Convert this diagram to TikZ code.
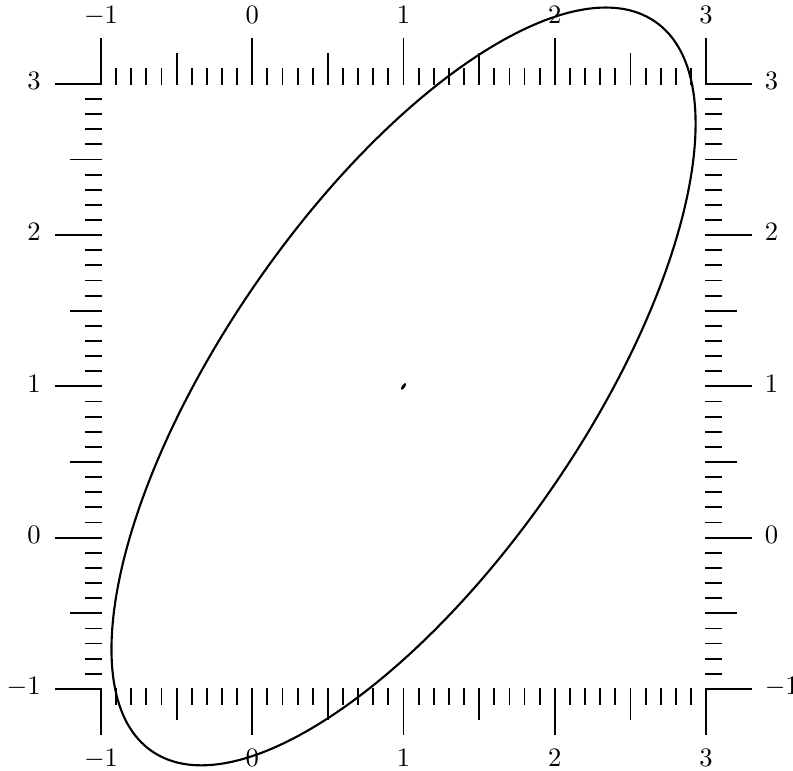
\documentclass[tikz,border=0pt]{standalone}
\begin{document}
\begin{tikzpicture}[x=2cm,y=2cm,
  tick/.style={line width=0.7pt, line cap=rect},
  lbl/.style={inner sep=0pt, font=\normalsize},
  curve/.style={line width=0.8pt}]
\useasboundingbox (-1.668,-1.536) rectangle (3.575,3.555);
% ticks on the four sides, pointing outward
\foreach \k in {0,...,40}{
  \pgfmathsetmacro{\t}{-1+0.1*\k}
  \pgfmathtruncatemacro{\mten}{mod(\k,10)}
  \pgfmathtruncatemacro{\mfive}{mod(\k,5)}
  \pgfmathsetmacro{\L}{ifthenelse(\mten==0,0.3,ifthenelse(\mfive==0,0.2,0.1))}
  \draw[tick] (\t,3) -- ++(0,\L);
  \draw[tick] (\t,-1) -- ++(0,-\L);
  \draw[tick] (-1,\t) -- ++(-\L,0);
  \draw[tick] (3,\t) -- ++(\L,0);
}
% labels
\foreach \v [count=\i] in {-1,0,1,2,3}{
  \node[lbl, anchor=base] (top\i) at (\v,3.397) {$\v$};
  \node[lbl, anchor=base] (bot\i) at (\v,-1.516) {$\v$};
  \node[lbl, anchor=mid east] (lft\i) at (-1.396,\v) {$\v$};
  \node[lbl, anchor=mid west] (rgt\i) at (3.385,\v) {$\v$};
}
% ellipse and centre mark
\coordinate (c) at (1,1);
\draw[curve, rotate around={55.4:(c)}] (c) ellipse (2.93 and 1.19);
\fill[rotate around={55:(c)}] (c) ellipse (0.026 and 0.01);
\end{tikzpicture}
\end{document}
